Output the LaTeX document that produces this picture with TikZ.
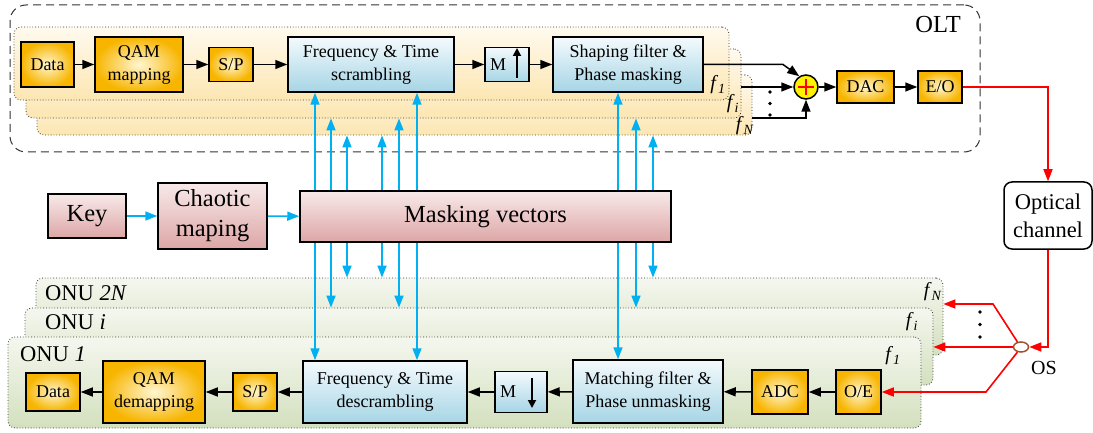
\documentclass[tikz,border=0pt]{standalone}
\usepackage{fontspec}
\setmainfont{Liberation Serif}
\usetikzlibrary{arrows.meta,shapes.geometric,calc}
\definecolor{yout}{HTML}{F7B500}
\definecolor{yin}{HTML}{FFF6D2}
\definecolor{btop}{HTML}{F4FAFD}
\definecolor{bbot}{HTML}{A6D5E5}
\definecolor{ptop}{HTML}{F8E9E9}
\definecolor{pbot}{HTML}{DDA6A6}
\definecolor{cyanarr}{HTML}{00B0F0}
\definecolor{olttop}{HTML}{FFFAEE}
\definecolor{oltbot}{HTML}{FCE6B2}
\definecolor{onutop}{HTML}{F5F7EF}
\definecolor{onubot}{HTML}{D3E0BE}
\definecolor{osbrown}{HTML}{A0522D}
\tikzset{
  blk/.style={draw=black, line width=1.5pt, inner sep=1pt, align=center,
    font=\fontsize{18}{23}\selectfont},
  ybox/.style={blk, inner color=yin, outer color=yout},
  bbox/.style={blk, top color=btop, bottom color=bbot},
  pbox/.style={blk, top color=ptop, bottom color=pbot, font=\fontsize{24.5}{30}\selectfont},
  oltpanel/.style={draw=black!80, dotted, line width=0.8pt, rounded corners=7pt,
    top color=olttop, bottom color=oltbot, inner sep=0pt},
  onupanel/.style={draw=black!80, dotted, line width=0.8pt, rounded corners=7pt,
    top color=onutop, bottom color=onubot, inner sep=0pt},
  karr/.style={-{Triangle[length=12pt,width=9pt]}, line width=1.5pt, black},
  barr/.style={-{Triangle[length=12pt,width=9pt]}, line width=1.6pt, cyanarr},
  rarr/.style={-{Triangle[length=12pt,width=9pt]}, line width=1.6pt, red},
  marr/.style={-{Triangle[length=8pt,width=8pt]}, line width=1.8pt, black},
  lbl/.style={inner sep=0pt, font=\fontsize{20}{24}\selectfont},
}
\begin{document}
\begin{tikzpicture}[x=1pt,y=-1pt]
\useasboundingbox (0,0) rectangle (1093,433);

% OLT dashed box
\node[draw=black!80, dash pattern=on 8pt off 5pt, line width=1pt, rounded corners=16pt,
  minimum width=970pt, minimum height=147pt, inner sep=0pt] (olt) at (495,78.5) {};
\node[lbl, font=\fontsize{24.5}{28}\selectfont] (oltlbl) at (938,25) {OLT};

% OLT panels
\node[oltpanel, minimum width=715pt, minimum height=60pt] (pN) at (394.5,105) {};
\node[oltpanel, minimum width=715pt, minimum height=69pt] (pI) at (383.5,83.5) {};
\node[oltpanel, minimum width=715pt, minimum height=73pt] (p1) at (371.5,63.5) {};
\node[lbl] (lf1) at (718,85) {\textit{f}\textsubscript{\textit{1}}};
\node[lbl] (lfi) at (733,104) {\textit{f}\textsubscript{\textit{i}}};
\node[lbl] (lfN) at (745,126) {\textit{f}\textsubscript{\textit{N}}};

% top row
\node[ybox, minimum width=53pt, minimum height=45pt] (data1) at (47.5,64.5) {Data};
\node[ybox, minimum width=88pt, minimum height=55pt] (qam1) at (139,64.5) {QAM\\mapping};
\node[ybox, minimum width=44pt, minimum height=34pt] (sp1) at (231,64.5) {S/P};
\node[bbox, minimum width=166pt, minimum height=55pt] (scr) at (371,64.5) {Frequency \& Time\\scrambling};
\node[bbox, minimum width=44pt, minimum height=34pt] (mup) at (507,64.5) {};
\node[blk, draw=none, inner sep=0pt] (mupm) at (498,64.5) {M};
\draw[marr] (517,78) -- (517,48);
\node[bbox, minimum width=150pt, minimum height=55pt] (shp) at (628,64.5) {Shaping filter \&\\Phase masking};

\draw[karr] (data1) -- (qam1);
\draw[karr] (qam1) -- (sp1);
\draw[karr] (sp1) -- (scr);
\draw[karr] (scr) -- (mup);
\draw[karr] (mup) -- (shp);

% summation
\node[circle, draw=black, line width=1.5pt, fill=yellow, minimum size=24pt, inner sep=0pt] (sum) at (806,87) {};
\draw[red, line width=1.5pt] (sum.center) ++(-8,0) -- ++(16,0);
\draw[red, line width=1.5pt] (sum.center) ++(0,-8) -- ++(0,16);
\coordinate (bend1) at (783,64.5);
\coordinate (n3) at (752,118);
\draw[karr] (shp.east) -- (bend1) -- (sum.122);
\draw[karr] (sum.west -| pI.east) -- (sum.west);
\draw[karr] (n3) -| (sum.south);
\fill (770,92) circle (1.8pt) (770,103.5) circle (1.8pt) (770,115) circle (1.8pt);

\node[ybox, minimum width=57pt, minimum height=32pt] (dac) at (865.5,87) {DAC};
\node[ybox, minimum width=44pt, minimum height=32pt] (eo) at (940,87) {E/O};
\draw[karr] (sum) -- (dac);
\draw[karr] (dac) -- (eo);

% optical channel
\node[draw=black, line width=1.5pt, rounded corners=8pt, fill=white, align=center,
  minimum width=88pt, minimum height=67pt, inner sep=0pt,
  font=\fontsize{22.5}{28}\selectfont] (optical) at (1048,215.5) {Optical\\channel};
\draw[rarr] (eo.east) -| (optical.north);

% ONU panels
\node[onupanel, minimum width=907pt, minimum height=77pt] (o2N) at (489.5,316.5) {};
\node[onupanel, minimum width=908pt, minimum height=77pt] (oI) at (479,346.5) {};
\node[onupanel, minimum width=913pt, minimum height=91pt] (o1) at (464.5,382.5) {};
\node[lbl, anchor=west, font=\fontsize{22.5}{26}\selectfont] (l2N) at (45,293) {ONU \textit{2N}};
\node[lbl, anchor=west, font=\fontsize{22.5}{26}\selectfont] (lI) at (45,322) {ONU \textit{i}};
\node[lbl, anchor=west, font=\fontsize{22.5}{26}\selectfont] (l1) at (20,354) {ONU \textit{1}};
\node[lbl] (gfN) at (933,292) {\textit{f}\textsubscript{\textit{N}}};
\node[lbl] (gfi) at (912,322) {\textit{f}\textsubscript{\textit{i}}};
\node[lbl] (gf1) at (893,356) {\textit{f}\textsubscript{\textit{1}}};

% bottom row
\node[ybox, minimum width=54pt, minimum height=38pt] (data2) at (53,392) {Data};
\node[ybox, minimum width=102pt, minimum height=62pt] (qam2) at (154,392) {QAM\\demapping};
\node[ybox, minimum width=44pt, minimum height=38pt] (sp2) at (255,392) {S/P};
\node[bbox, minimum width=164pt, minimum height=62pt] (desc) at (385,392) {Frequency \& Time\\descrambling};
\node[bbox, minimum width=52pt, minimum height=41pt] (mdown) at (521,392) {};
\node[blk, draw=none, inner sep=0pt] (mdownm) at (508,392) {M};
\draw[marr] (532,378) -- (532,408);
\node[bbox, minimum width=150pt, minimum height=63pt] (match) at (648,391.5) {Matching filter \&\\Phase unmasking};
\node[ybox, minimum width=56pt, minimum height=44pt] (adc) at (780,392) {ADC};
\node[ybox, minimum width=45pt, minimum height=44pt] (oe) at (858.5,392) {O/E};

\draw[karr] (oe) -- (adc);
\draw[karr] (adc) -- (match);
\draw[karr] (match) -- (mdown);
\draw[karr] (mdown) -- (desc);
\draw[karr] (desc) -- (sp2);
\draw[karr] (sp2) -- (qam2);
\draw[karr] (qam2) -- (data2);

% optical splitter
\node[ellipse, draw=osbrown, line width=1.5pt, fill=white, minimum width=15pt, minimum height=10pt, inner sep=0pt] (os) at (1021,347) {};
\node[lbl] (oslbl) at (1044,368) {OS};
\draw[rarr] (optical.south) |- (os.east);
\coordinate (k1) at (993,304);
\coordinate (k2) at (986,392);
\draw[rarr] (os.125) -- (k1) -- (k1 -| o2N.east);
\draw[rarr] (os.west) -- (os.west -| oI.east);
\draw[rarr] (os.235) -- (k2) -- (oe.east);
\fill (980,312) circle (1.8pt) (980,324.5) circle (1.8pt) (980,337) circle (1.8pt);

% key chain
\node[pbox, minimum width=78pt, minimum height=44pt] (key) at (87,216) {Key};
\node[pbox, minimum width=109pt, minimum height=66pt] (chaos) at (212.5,216) {Chaotic\\maping};
\node[pbox, minimum width=371pt, minimum height=51pt] (mask) at (485.5,216.5) {Masking vectors};
\draw[barr] (key) -- (chaos);
\draw[barr] (chaos) -- (mask);

% vertical masking links
\foreach \x/\up/\dn in {315/scr/desc, 417/scr/desc, 618/shp/match}{
  \coordinate (v) at (\x,0);
  \draw[barr] (mask.north -| v) -- (\up.south -| v);
  \draw[barr] (mask.south -| v) -- (\dn.north -| v);
}
\foreach \x in {331,399,636}{
  \coordinate (v) at (\x,0);
  \draw[barr] (mask.north -| v) -- (pI.south -| v);
  \draw[barr] (mask.south -| v) -- (oI.north -| v);
}
\foreach \x in {347,382,653}{
  \coordinate (v) at (\x,0);
  \draw[barr] (mask.north -| v) -- (pN.south -| v);
  \draw[barr] (mask.south -| v) -- (o2N.north -| v);
}
\end{tikzpicture}
\end{document}
